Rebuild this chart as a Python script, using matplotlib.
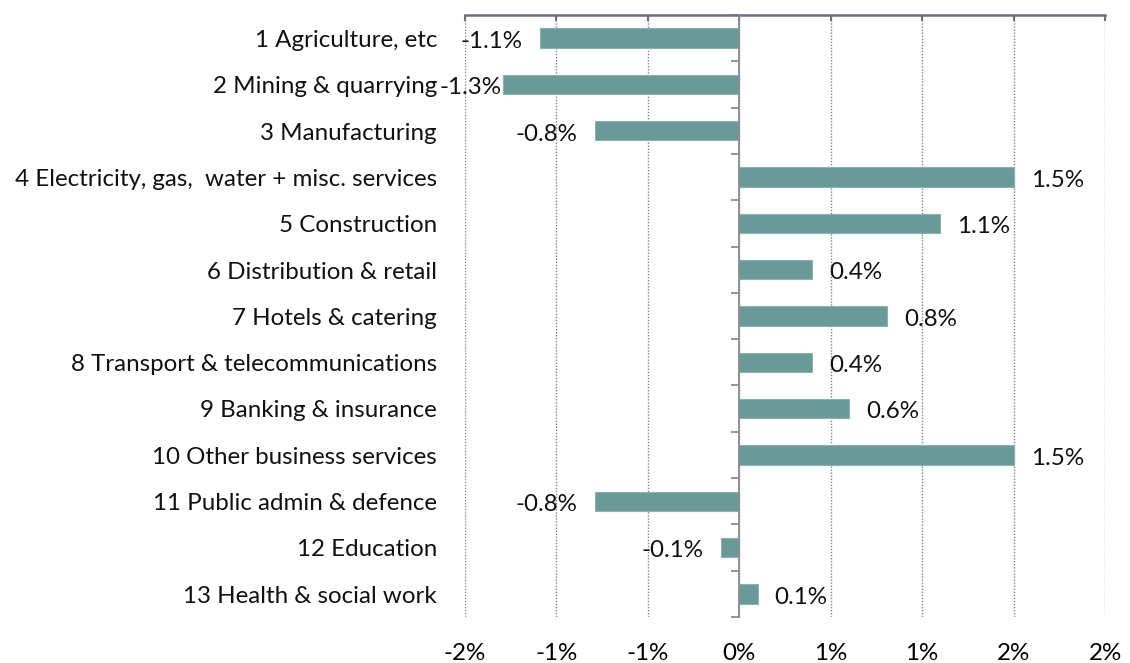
import numpy as np
import matplotlib
matplotlib.use("Agg")
import matplotlib.pyplot as plt
from matplotlib.ticker import FuncFormatter
import math

categories = [
    "1 Agriculture, etc",
    "2 Mining & quarrying",
    "3 Manufacturing",
    "4 Electricity, gas,  water + misc. services",
    "5 Construction",
    "6 Distribution & retail",
    "7 Hotels & catering",
    "8 Transport & telecommunications",
    "9 Banking & insurance",
    "10 Other business services",
    "11 Public admin & defence",
    "12 Education",
    "13 Health & social work",
]
values = [-1.09, -1.29, -0.79, 1.50, 1.10, 0.40, 0.81, 0.40, 0.60, 1.50, -0.79, -0.10, 0.10]
xticks = [-1.5, -1.0, -0.5, 0.0, 0.5, 1.0, 1.5, 2.0]

plt.rcParams['font.family'] = ['Lato', 'DejaVu Sans']
FS = 17.4

fig = plt.figure(figsize=(11.30, 6.63), dpi=100)
ax = fig.add_axes([465/1130, 1 - 617/663, 640/1130, 602/663])

n = len(categories)
y = np.arange(n)
ax.barh(y, values, height=0.42, color='#6A9997', edgecolor='#8DB3B1', linewidth=0.8, zorder=3)

ax.set_xlim(-1.5, 2.0)
ax.set_ylim(n - 0.5, -0.5)

def pct(v, pos=None):
    r = math.copysign(math.floor(abs(v) + 0.5), v)
    return f"{int(r)}%"

ax.set_xticks(xticks)
ax.xaxis.set_major_formatter(FuncFormatter(pct))
ax.tick_params(axis='x', top=True, bottom=False, labeltop=False, labelbottom=True,
               direction='in', length=4, width=1.5, color='#6E7079', pad=19, labelsize=FS)
ax.grid(axis='x', linestyle=(0, (1, 1.2)), color='#7E8494', linewidth=1.0, zorder=1)

# spines
for s in ['right', 'bottom']:
    ax.spines[s].set_visible(False)
ax.spines['top'].set_color('#6E7079')
ax.spines['top'].set_linewidth(1.8)
ax.spines['left'].set_position(('data', 0))
ax.spines['left'].set_color('#8C8C8C')
ax.spines['left'].set_linewidth(1.3)
ax.spines['left'].set_zorder(4)

ax.set_yticks(np.arange(-0.5, n, 1.0))
ax.set_yticklabels([])
ax.tick_params(axis='y', direction='out', length=6, width=1.3, color='#8C8C8C')

# category labels
trans = matplotlib.transforms.blended_transform_factory(ax.transAxes, ax.transData)
for i, c in enumerate(categories):
    ax.text(-28/640, i + 0.05, c, transform=trans, ha='right', va='center', fontsize=FS, color='#111111')

# data labels
gap = 0.093
for i, v in enumerate(values):
    lab = f"{v:.1f}%"
    if v >= 0:
        ax.text(v + gap, i + 0.07, lab, ha='left', va='center', fontsize=FS, color='#111111', zorder=5)
    else:
        xr = max(v - gap, -1.30)
        ax.text(xr, i + 0.07, lab, ha='right', va='center', fontsize=FS, color='#111111', zorder=5)

fig.savefig("out.png", dpi=100)
